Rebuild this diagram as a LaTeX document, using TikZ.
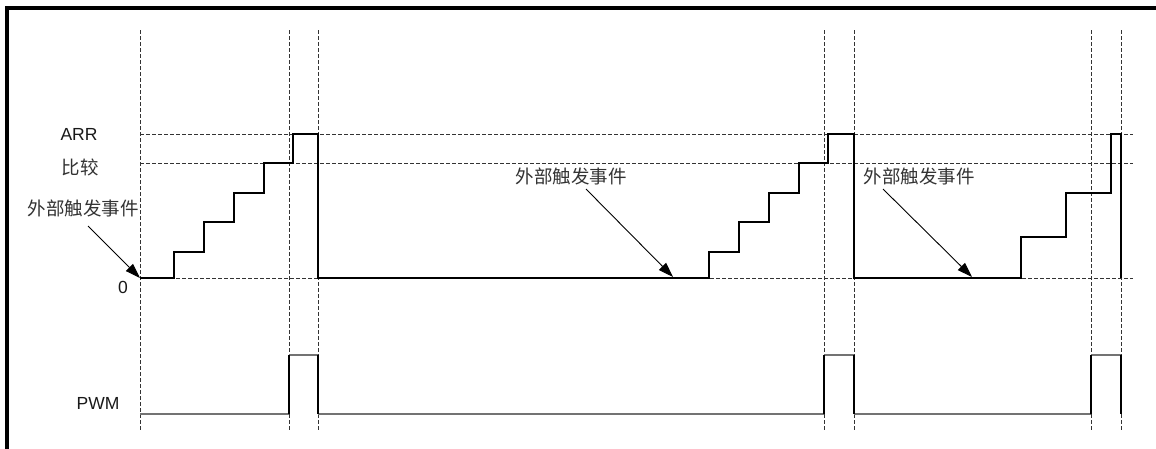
\documentclass[tikz,border=0pt]{standalone}
\usepackage{fontspec}
\setmainfont{Liberation Sans}
\newfontfamily\cjk{Noto Sans CJK SC}
\usetikzlibrary{arrows.meta}
\begin{document}
\begin{tikzpicture}[x=1pt,y=-1pt,
  grid/.style={dash pattern=on 4pt off 2pt, line width=0.9pt, black!80},
  wave/.style={line width=1.1pt, black, line join=miter},
  pwm/.style={line width=1.4pt, black!55},
  edge/.style={line width=1.1pt, black},
  lbl/.style={inner sep=0pt, font=\fontsize{17.5}{20}\selectfont, text=black!90},
  cn/.style={inner sep=0pt, font=\cjk\fontsize{18.5}{20}\selectfont, text=black!80},
  pointer/.style={line width=0.9pt, -{Triangle[length=15pt,width=10pt]}}]
\useasboundingbox (0,0) rectangle (1156,448);
\fill[white] (0,0) rectangle (1156,448);
% frame
\draw[line width=3.4pt] (7,449) -- (7,8) -- (1157,8);
% vertical dashed guides
\foreach \x in {140,289,318,824,854,1091,1121}
  \draw[grid] (\x,30) -- (\x,430);
% horizontal dashed guides
\foreach \y in {134,163,278}
  \draw[grid] (140,\y) -- (1133,\y);
% PWM waveform
\draw[pwm] (140,414) -- (289,414) (289,355) -- (318,355) (318,414) -- (824,414)
  (824,355) -- (854,355) (854,414) -- (1091,414) (1091,355) -- (1121,355);
\foreach \x in {289,318,824,854,1091,1121}
  \draw[edge] (\x,414) -- (\x,355);
% counter staircase
\draw[wave] (140,278) -- (174,278) -- (174,252) -- (204,252) -- (204,222) -- (234,222)
  -- (234,193) -- (264,193) -- (264,163) -- (293,163) -- (293,134) -- (318,134)
  -- (318,278) -- (709,278) -- (709,252) -- (739,252) -- (739,222) -- (769,222)
  -- (769,193) -- (799,193) -- (799,163) -- (828,163) -- (828,134) -- (854,134)
  -- (854,278) -- (1021,278) -- (1021,237) -- (1066,237) -- (1066,193) -- (1111,193)
  -- (1111,134) -- (1121,134) -- (1121,278);
% labels
\node[lbl] (arr) at (79,134) {ARR};
\node[cn] (cmp) at (80,167) {比较};
\node[cn] (ev1) at (83,208) {外部触发事件};
\node[lbl] (zero) at (123,287) {0};
\node[lbl] (pwmlbl) at (98,403) {PWM};
\node[cn] (ev2) at (571,176) {外部触发事件};
\node[cn] (ev3) at (919,176) {外部触发事件};
% arrow endpoints
\coordinate (s1) at (88,226);
\coordinate (e1) at (140,278);
\coordinate (s2) at (586,189);
\coordinate (e2) at (673,277);
\coordinate (s3) at (883,189);
\coordinate (e3) at (972,277);
\draw[pointer] (s1) -- (e1);
\draw[pointer] (s2) -- (e2);
\draw[pointer] (s3) -- (e3);
\end{tikzpicture}
\end{document}
